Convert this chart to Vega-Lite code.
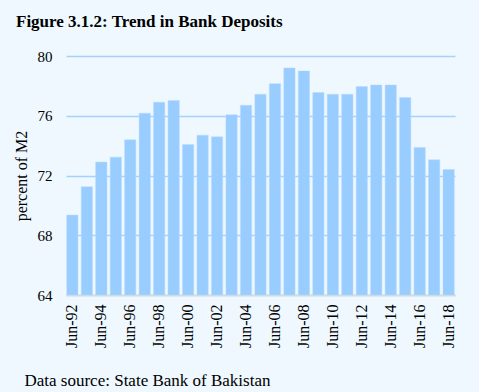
{
  "$schema": "https://vega.github.io/schema/vega-lite/v6.json",
  "width": 389,
  "height": 239,
  "autosize": {"type": "none"},
  "padding": {"left": 66, "top": 56, "right": 24, "bottom": 97},
  "background": "#eef8fe",
  "title": {
    "text": "Figure 3.1.2: Trend in Bank Deposits",
    "anchor": "start",
    "frame": "group",
    "dx": -50,
    "offset": 5,
    "baseline": "alphabetic",
    "font": "Liberation Serif",
    "fontSize": 17,
    "fontWeight": "bold",
    "color": "#000000"
  },
  "config": {
    "view": {"stroke": null},
    "font": "Liberation Serif"
  },
  "data": {
    "values": [
      {"date": "Jun-92", "value": 69.35},
      {"date": "Jun-93", "value": 71.25},
      {"date": "Jun-94", "value": 72.9},
      {"date": "Jun-95", "value": 73.23},
      {"date": "Jun-96", "value": 74.39},
      {"date": "Jun-97", "value": 76.17},
      {"date": "Jun-98", "value": 76.91},
      {"date": "Jun-99", "value": 77.02},
      {"date": "Jun-00", "value": 74.08},
      {"date": "Jun-01", "value": 74.7},
      {"date": "Jun-02", "value": 74.59},
      {"date": "Jun-03", "value": 76.06},
      {"date": "Jun-04", "value": 76.7},
      {"date": "Jun-05", "value": 77.44},
      {"date": "Jun-06", "value": 78.15},
      {"date": "Jun-07", "value": 79.2},
      {"date": "Jun-08", "value": 79.0},
      {"date": "Jun-09", "value": 77.55},
      {"date": "Jun-10", "value": 77.44},
      {"date": "Jun-11", "value": 77.44},
      {"date": "Jun-12", "value": 77.95},
      {"date": "Jun-13", "value": 78.06},
      {"date": "Jun-14", "value": 78.06},
      {"date": "Jun-15", "value": 77.22},
      {"date": "Jun-16", "value": 73.88},
      {"date": "Jun-17", "value": 73.05},
      {"date": "Jun-18", "value": 72.4}
    ]
  },
  "mark": {"type": "bar", "color": "#99ccff", "stroke": "#b8dcff", "strokeWidth": 0.5},
  "encoding": {
    "x": {
      "field": "date",
      "type": "ordinal",
      "sort": null,
      "scale": {"paddingInner": 0.22, "paddingOuter": 0.05},
      "axis": {
        "values": ["Jun-92","Jun-94","Jun-96","Jun-98","Jun-00","Jun-02","Jun-04","Jun-06","Jun-08","Jun-10","Jun-12","Jun-14","Jun-16","Jun-18"],
        "labelAngle": -90,
        "labelAlign": "right",
        "labelBaseline": "middle",
        "labelFont": "Liberation Serif",
        "labelFontSize": 16,
        "labelColor": "#000000",
        "labelPadding": 9,
        "ticks": false,
        "domainColor": "#d9d9d9",
        "domainWidth": 1.5,
        "title": "Data source: State Bank of Bakistan",
        "titleFont": "Liberation Serif",
        "titleFontSize": 17,
        "titleFontWeight": "normal",
        "titleColor": "#000000",
        "titleAnchor": "start",
        "titleAlign": "left",
        "titleBaseline": "alphabetic",
        "titleX": -42,
        "titleY": 90
      }
    },
    "y": {
      "field": "value",
      "type": "quantitative",
      "scale": {"domain": [64, 80], "nice": false, "zero": false},
      "axis": {
        "values": [64, 68, 72, 76, 80],
        "title": "percent of M2",
        "titleFont": "Liberation Serif",
        "titleFontSize": 16,
        "titleFontWeight": "normal",
        "titleColor": "#000000",
        "titlePadding": 8,
        "labelFont": "Liberation Serif",
        "labelFontSize": 15,
        "labelColor": "#000000",
        "labelPadding": 14,
        "ticks": false,
        "domain": false,
        "gridColor": "#a6d2ff",
        "gridWidth": 1.5
      }
    },
    "y2": {"datum": 64}
  }
}
